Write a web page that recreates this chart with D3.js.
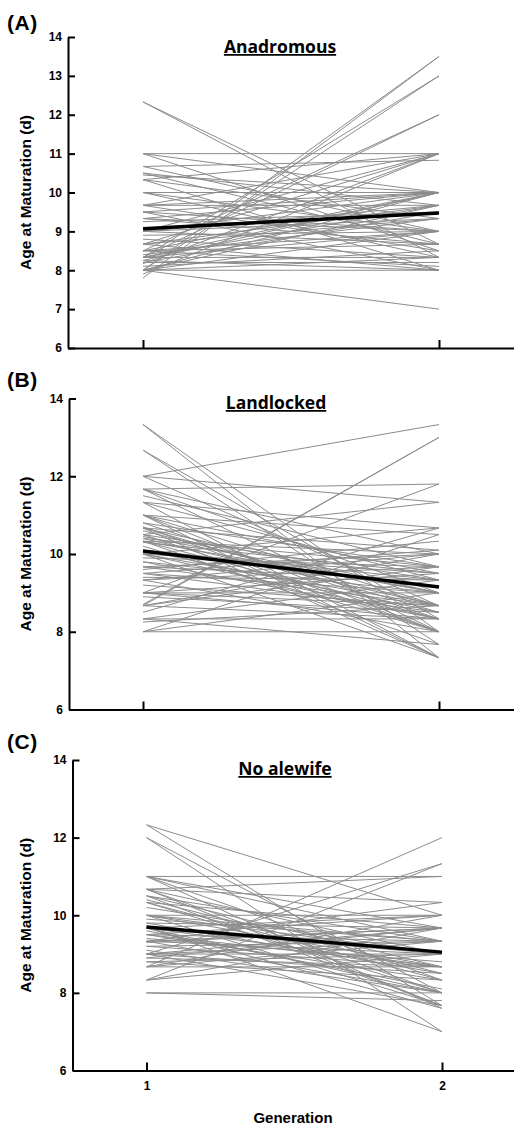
<!DOCTYPE html>
<html>
<head>
<meta charset="utf-8">
<script src="https://cdn.jsdelivr.net/npm/d3@7"></script>
<style>
  body { margin: 0; background: #fff; }
  svg text { font-family: "Liberation Sans", Arial, sans-serif; }
</style>
</head>
<body>
<div id="chart"></div>
<script>
// generation values
const generations = [1, 2];

// each individual line: [generation 1, generation 2]
const anadromous = [
  [12.33, 8.67], [12.33, 8.33], [11.0, 11.0], [11.0, 10.0], [11.0, 8.5], [10.67, 10.83],
  [10.67, 9.0], [10.5, 8.67], [10.5, 9.67], [10.45, 10.0], [10.33, 8.0], [10.33, 9.33],
  [10.33, 11.0], [10.0, 10.0], [10.0, 9.0], [10.0, 8.33], [9.67, 11.0], [9.67, 8.5],
  [9.67, 9.67], [9.67, 10.0], [9.5, 9.0], [9.5, 8.0], [9.33, 10.0], [9.33, 8.67],
  [9.25, 9.5], [9.0, 11.0], [9.0, 9.33], [9.0, 8.67], [9.0, 10.0], [8.9, 9.0],
  [8.8, 8.33], [8.67, 11.0], [8.67, 9.67], [8.67, 8.0], [8.5, 12.0], [8.5, 9.0],
  [8.5, 10.0], [8.5, 8.67], [8.4, 9.33], [8.33, 13.0], [8.33, 12.0], [8.33, 9.67],
  [8.33, 8.33], [8.33, 9.0], [8.25, 10.0], [8.25, 8.0], [8.2, 9.5], [8.17, 11.0],
  [8.0, 13.5], [8.0, 13.0], [8.0, 7.0], [8.0, 8.0], [8.0, 9.0], [8.0, 10.0],
  [8.0, 9.67], [8.1, 8.5], [7.8, 13.5], [7.9, 11.0], [8.0, 8.33], [8.33, 10.0],
  [8.67, 9.33], [9.0, 9.67], [9.33, 9.0], [8.5, 8.1], [8.2, 8.2], [9.5, 10.0]
];
const landlocked = [
  [13.33, 8.0], [13.33, 7.33], [12.67, 8.33], [12.67, 7.67], [12.0, 13.33], [12.0, 11.33],
  [11.67, 9.0], [11.67, 8.0], [11.67, 11.8], [11.67, 10.0], [11.33, 7.33], [11.33, 9.33],
  [11.33, 10.67], [11.0, 8.67], [11.0, 10.5], [11.0, 8.0], [11.0, 9.5], [10.8, 9.67],
  [10.8, 8.33], [10.67, 7.33], [10.67, 9.0], [10.67, 10.1], [10.67, 8.5], [10.5, 9.33],
  [10.5, 8.0], [10.5, 11.33], [10.4, 8.67], [10.4, 9.67], [10.33, 7.67], [10.33, 10.0],
  [10.33, 9.0], [10.33, 8.33], [10.2, 8.0], [10.0, 9.5], [10.0, 8.67], [10.0, 10.67],
  [10.0, 7.33], [9.8, 9.0], [9.8, 8.33], [9.67, 10.0], [9.67, 8.67], [9.67, 9.33],
  [9.5, 8.5], [9.5, 10.1], [9.5, 9.0], [9.33, 8.0], [9.33, 9.67], [9.33, 10.0],
  [9.2, 8.67], [9.0, 9.0], [9.0, 9.5], [9.0, 8.33], [9.0, 11.8], [9.0, 8.67],
  [8.67, 13.0], [8.7, 13.0], [8.67, 9.67], [8.67, 10.0], [8.67, 8.33], [8.33, 8.33],
  [8.33, 9.33], [8.25, 8.67], [8.0, 8.0], [8.0, 9.0], [8.0, 10.5], [8.33, 7.67],
  [10.1, 9.33], [10.1, 8.5], [9.9, 9.67], [10.7, 8.0], [11.0, 7.33], [10.45, 9.0],
  [10.6, 8.67], [9.4, 9.33], [9.6, 10.33], [8.9, 8.5], [10.3, 9.5], [11.5, 9.67],
  [12.0, 8.67], [10.0, 8.33], [8.5, 10.67]
];
const noAlewife = [
  [12.33, 10.0], [12.33, 7.67], [12.0, 8.0], [12.0, 7.0], [11.0, 11.0], [11.0, 8.33],
  [11.0, 9.67], [11.0, 7.6], [10.67, 10.33], [10.67, 8.0], [10.67, 9.0], [10.67, 11.0],
  [10.5, 8.67], [10.5, 9.33], [10.5, 7.67], [10.33, 9.67], [10.33, 8.33], [10.33, 8.0],
  [10.0, 9.0], [10.0, 10.0], [10.0, 8.67], [10.0, 7.67], [9.9, 9.33], [9.8, 8.5],
  [9.8, 9.67], [9.67, 9.0], [9.67, 8.0], [9.67, 10.0], [9.67, 7.6], [9.5, 9.33],
  [9.5, 8.67], [9.5, 8.33], [9.33, 9.0], [9.33, 10.33], [9.33, 8.0], [9.33, 9.67],
  [9.2, 8.67], [9.0, 9.33], [9.0, 9.0], [9.0, 11.33], [9.0, 8.5], [9.0, 7.67],
  [8.9, 9.67], [8.8, 9.0], [8.8, 8.33], [8.67, 9.33], [8.67, 12.0], [8.67, 8.67],
  [8.67, 10.0], [8.33, 11.33], [8.33, 9.0], [8.33, 9.67], [8.0, 7.8], [8.0, 8.0],
  [9.67, 8.67], [9.4, 8.8], [10.2, 9.0], [10.0, 9.33], [9.1, 8.0], [9.6, 8.1],
  [10.67, 7.67], [9.3, 9.67], [8.9, 8.67], [9.5, 10.0], [10.4, 8.5], [9.0, 9.67],
  [9.7, 7.0], [11.0, 9.33], [9.2, 9.33]
];

// mean line per group
const meanAnadromous = [9.07, 9.47];
const meanLandlocked = [10.08, 9.15];
const meanNoAlewife = [9.7, 9.05];

const yTicksA = [6, 7, 8, 9, 10, 11, 12, 13, 14];
const yTicksBC = [6, 8, 10, 12, 14];

const panels = [
  { letter: "(A)", title: "Anadromous", data: anadromous, mean: meanAnadromous, ticks: yTicksA,
    axisX: 68, g1: 143, g2: 439, top: 37, bottom: 348, letterY: 30, titleX: 280, titleY: 53, xLabels: false },
  { letter: "(B)", title: "Landlocked", data: landlocked, mean: meanLandlocked, ticks: yTicksBC,
    axisX: 69, g1: 143, g2: 439, top: 398.5, bottom: 709.5, letterY: 387, titleX: 276, titleY: 409, xLabels: false },
  { letter: "(C)", title: "No alewife", data: noAlewife, mean: meanNoAlewife, ticks: yTicksBC,
    axisX: 72.5, g1: 146.5, g2: 442, top: 760, bottom: 1070.5, letterY: 749, titleX: 285, titleY: 775, xLabels: true }
];

const W = 514, H = 1127;
const svg = d3.select("#chart").append("svg")
  .attr("width", W)
  .attr("height", H);

panels.forEach(p => {
  const unit = p.g2 - p.g1;
  const x = d3.scaleLinear()
    .domain([1 - (p.g1 - p.axisX) / unit, 2 + (W - p.g2) / unit])
    .range([p.axisX, W]);
  const y = d3.scaleLinear().domain([6, 14]).range([p.bottom, p.top]);

  const g = svg.append("g");

  const line = d3.line()
    .x((d, i) => x(generations[i]))
    .y(d => y(d));

  g.selectAll(".ind")
    .data(p.data)
    .enter().append("path")
    .attr("class", "ind")
    .attr("d", line)
    .attr("fill", "none")
    .attr("stroke", "#8c8c8c")
    .attr("stroke-width", 1);

  g.append("path")
    .datum(p.mean)
    .attr("d", line)
    .attr("fill", "none")
    .attr("stroke", "#000")
    .attr("stroke-width", 3.5);

  // y axis
  const yAxis = g.append("g")
    .attr("transform", `translate(${p.axisX},0)`)
    .call(d3.axisLeft(y).tickValues(p.ticks).tickSizeInner(-7).tickSizeOuter(0).tickPadding(6));
  yAxis.select(".domain").attr("stroke-width", 2);
  yAxis.selectAll(".tick line").attr("stroke-width", 2);
  yAxis.selectAll("text")
    .attr("font-size", 12)
    .attr("font-weight", "bold")
    .attr("font-family", "Liberation Sans, Arial, sans-serif");

  // x axis
  const xAxis = g.append("g")
    .attr("transform", `translate(0,${p.bottom})`)
    .call(d3.axisBottom(x).tickValues(generations).tickSizeInner(-8).tickSizeOuter(0).tickPadding(11)
      .tickFormat(p.xLabels ? d3.format("d") : ""));
  xAxis.select(".domain").attr("stroke-width", 2);
  xAxis.selectAll(".tick line").attr("stroke-width", 2);
  xAxis.selectAll("text")
    .attr("font-size", 12)
    .attr("font-weight", "bold")
    .attr("font-family", "Liberation Sans, Arial, sans-serif");

  // y label
  g.append("text")
    .attr("transform", `translate(26,${(p.top + p.bottom) / 2}) rotate(-90)`)
    .attr("text-anchor", "middle")
    .attr("dy", "0.35em")
    .attr("font-size", 15.5)
    .attr("font-weight", "bold")
    .text("Age at Maturation (d)");

  // panel letter
  g.append("text")
    .attr("x", 7)
    .attr("y", p.letterY)
    .attr("font-size", 21)
    .attr("font-weight", "bold")
    .attr("letter-spacing", 0.5)
    .text(p.letter);

  // title
  g.append("text")
    .attr("x", p.titleX)
    .attr("y", p.titleY)
    .attr("text-anchor", "middle")
    .style("font-family", "'Open Sans', sans-serif")
    .attr("font-size", 17.5)
    .attr("font-weight", "bold")
    .attr("text-decoration", "underline")
    .text(p.title);
});

// x label
svg.append("text")
  .attr("x", 293)
  .attr("y", 1123)
  .attr("text-anchor", "middle")
  .attr("font-size", 15)
  .attr("font-weight", "bold")
  .text("Generation");
</script>
</body>
</html>
